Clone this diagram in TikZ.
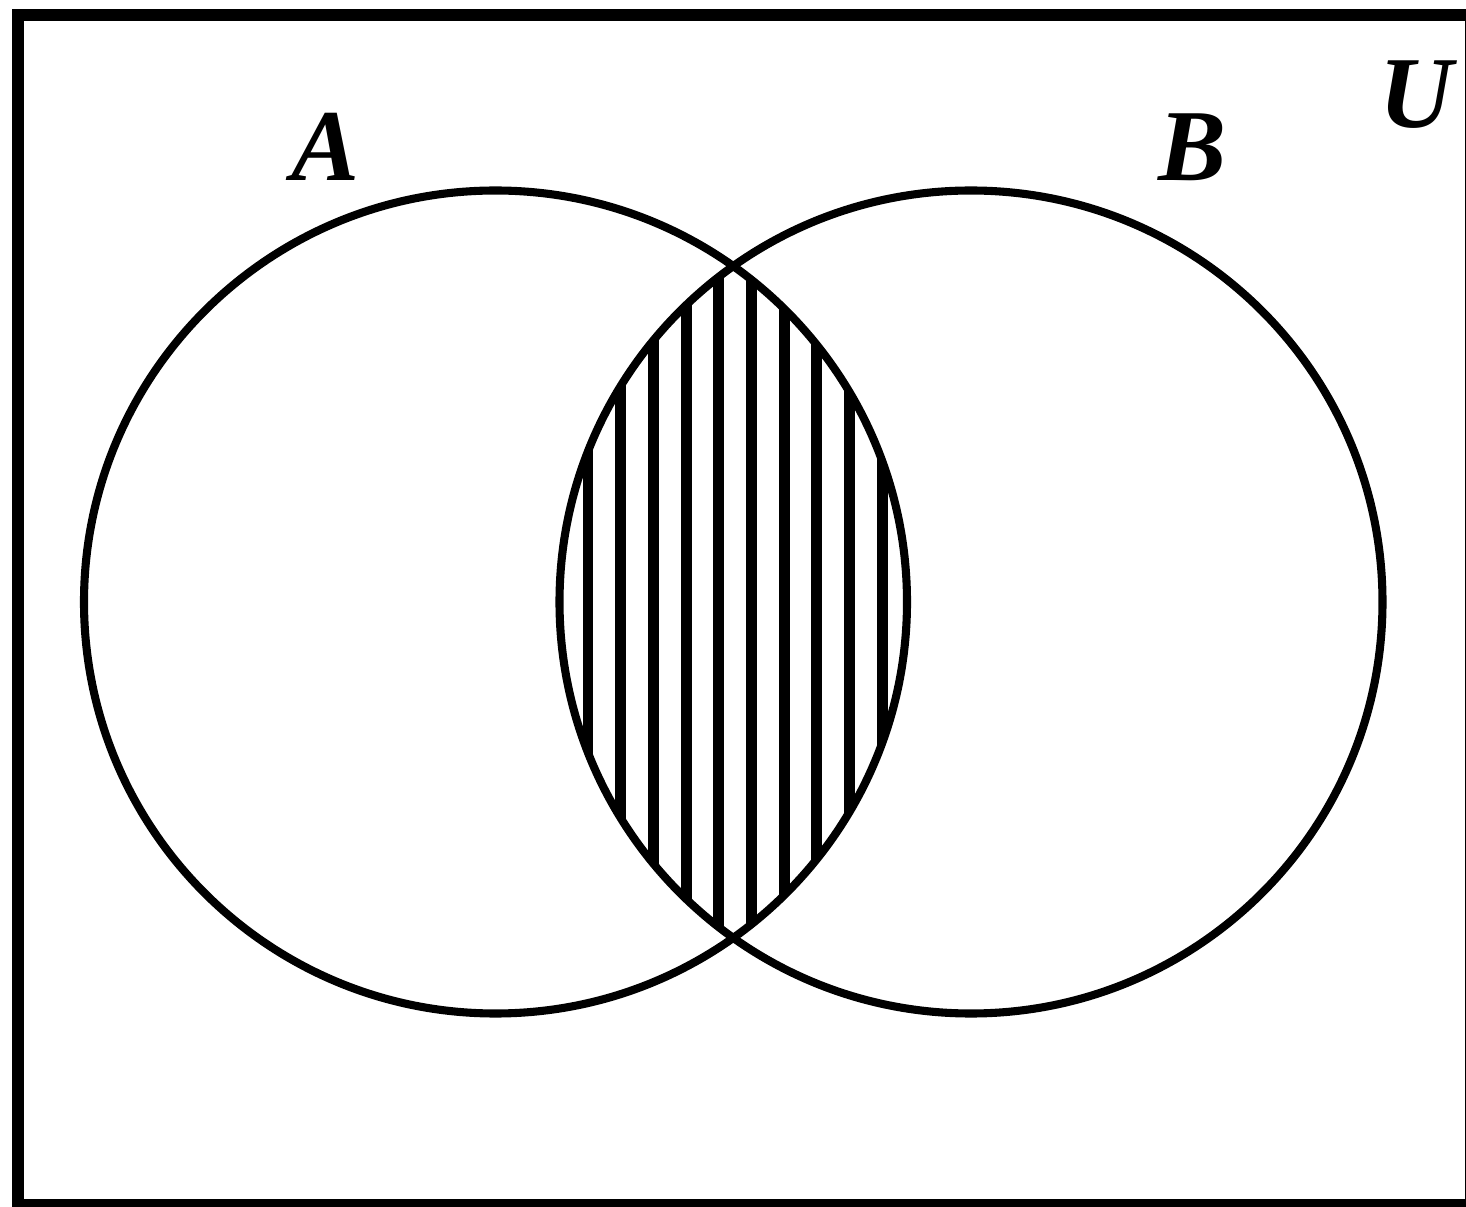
\documentclass[tikz,border=0pt]{standalone}
\usepackage{fontspec}
\setmainfont{Liberation Serif}
\begin{document}
\begin{tikzpicture}[venn/.style={line width=2.3pt},
    hatch/.style={line width=3.1pt},
    setname/.style={font=\fontsize{29}{30}\selectfont\bfseries\itshape, inner sep=0pt}]
      \useasboundingbox (0,0) rectangle (14.66,12.06);
      \coordinate (cA) at (4.955,6.04);
      \coordinate (cB) at (9.71,6.04);

      % shaded part: A and B
      \begin{scope}
        \clip (cA) circle (4.115);
        \clip (cB) circle (4.115);
        \foreach \x in {0,...,9}
          \draw[hatch] (5.88+0.327*\x,1.5) -- (5.88+0.327*\x,10.6);
      \end{scope}

      \draw[venn] (cA) circle (4.115);
      \draw[venn] (cB) circle (4.115);
      \draw[line width=3.4pt] (0.18,0.01) rectangle (14.71,11.91);

      \node[setname] (A) at (3.25,10.59){A};
      \node[setname] (B) at (11.92,10.59){B};
      \node[setname] (U) at (14.16,11.11){U};
    \end{tikzpicture}
\end{document}
